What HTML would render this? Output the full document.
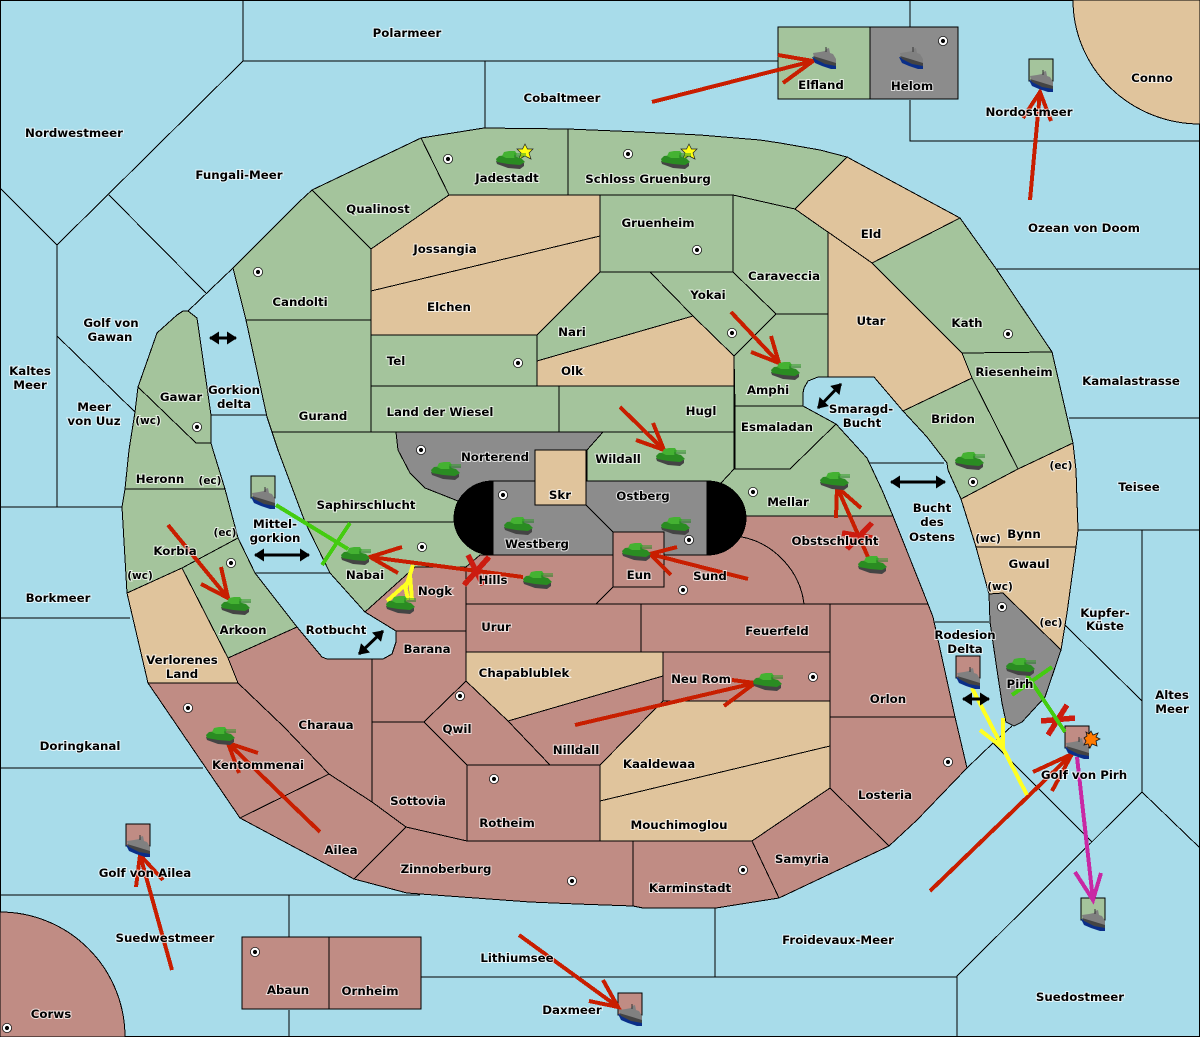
<!DOCTYPE html>
<html><head><meta charset="utf-8"><title>Map</title>
<style>
html,body{margin:0;padding:0;background:#a8dcea}
svg{display:block}
.g{fill:#a4c49c}.t{fill:#e0c49c}.p{fill:#c08c84}.y{fill:#8c8c8c}
.land *{stroke:#000;stroke-width:1;shape-rendering:crispEdges}
.r,.ye,.gr,.m,.x{fill:none;stroke-linejoin:miter;shape-rendering:crispEdges}
.r{stroke:#c81e00;stroke-width:4}.ye{stroke:#ffff22;stroke-width:4}.gr{stroke:#44cc10;stroke-width:4}.m{stroke:#c828a4;stroke-width:4}.x{stroke:#cc1c10;stroke-width:5.500}
text{font:bold 11.8px "DejaVu Sans",sans-serif;fill:#000;stroke:#fff;stroke-width:2px;stroke-opacity:.72;paint-order:stroke;text-anchor:middle}
</style></head><body>
<svg xmlns="http://www.w3.org/2000/svg" width="1200" height="1037" viewBox="0 0 1200 1037">
<defs>
<g id="tank">
<polygon points="-15,2 -14,5 -3,9 9,10 13,7 13,4" fill="#444"/>
<polygon points="-15,0 -12,-3 -2,-4 10,-1 14,3 9,6 -3,5 -14,3" fill="#2a8c22"/>
<polygon points="-9,-3 -7,-7 -2,-8 4,-8 6,-5 3,-1 -5,-1" fill="#44b232"/>
<path d="M3,-5H15" stroke="#2a9a22" stroke-width="1"/><path d="M3,-3H15" stroke="#1e7a1e" stroke-width="1"/>
</g>
<g id="ship">
<polygon points="0,21 3,27 10,30 19,33 24,33 24,28 10,23" fill="#0a2e88"/>
<polygon points="1,17 8,16 13,15 14,13 17,12 18,17 21,18 24,23 24,29 13,26 2,21" fill="#808080"/>
<polygon points="1,20 11,23 24,27 24,30 13,28 3,23" fill="#444"/>
<path d="M14,11V16" stroke="#333" stroke-width="1"/>
</g>
<g id="dot"><circle r="4.6" fill="#fff" stroke="#111" stroke-width=".8"/><circle r="2.100" fill="#000"/></g>
<marker id="ah" markerUnits="userSpaceOnUse" markerWidth="12" markerHeight="13" refX="9" refY="6.5" orient="auto-start-reverse"><polygon points="0,0 10,6.5 0,13" fill="#000"/></marker>
</defs>
<rect width="1200" height="1037" fill="#a8dcea"/>
<g fill="none" stroke="#000" stroke-width="1" shape-rendering="crispEdges">
<rect x=".5" y=".5" width="1199" height="1036"/>
<path d="M243,0V61H778M485,61V128M910,0V27M910,100V141H1200M243,61L57,245L0,188M57,245V507M109,195L206,293M233,268L188,311M57,336L135,412M211,415H267M0,507H122M0,618H130M0,768H203M0,895H420M289,895V937M289,1010V1037M421,977H957M715,908V977M997,269H1200M1069,418H1200M1078,530H1200M1142,530V792M1065,625L1142,701M1142,792L957,976V1037M1142,792L1200,848M993,743L1092,842M967,768L993,743M255,573H330M869,463H944M935,622H989M1012,726L993,743"/>
</g>
<g class="land">
<path class="t" d="M1073,0A127,124 0 0 0 1200,124V0Z"/>
<path class="p" d="M0,912A125,125 0 0 1 125,1037H0Z"/>
<rect class="g" x="778" y="27" width="92" height="72"/>
<rect class="y" x="870" y="27" width="88" height="72"/>
<rect class="p" x="242" y="937" width="87" height="72"/>
<rect class="p" x="329" y="937" width="92" height="72"/>
<rect class="g" x="251" y="476" width="24" height="22"/>
<rect class="g" x="1029" y="59" width="24" height="22"/>
<rect class="p" x="956" y="656" width="24" height="22"/>
<rect class="p" x="1065" y="726" width="24" height="22"/>
<rect class="p" x="126" y="824" width="24" height="22"/>
<rect class="p" x="618" y="993" width="24" height="22"/>
<rect class="g" x="1081" y="898" width="24" height="22"/>
<polygon class="g" points="421,138 484,128 568,129 568,195 449,195"/>
<polygon class="g" points="568,129 640,132 700,135 760,140 780,143 820,150 847,157 795,209 733,195 568,195"/>
<polygon class="g" points="312,190 421,138 449,195 371,249"/>
<polygon class="g" points="233,268 299,202 312,190 371,249 371,320 246,320"/>
<polygon class="g" points="246,320 371,320 371,432 272,432 267,417"/>
<polygon class="t" points="371,249 449,195 600,195 600,236 371,291"/>
<polygon class="t" points="371,291 600,236 600,272 537,335 371,335"/>
<polygon class="g" points="600,195 733,195 733,272 600,272"/>
<polygon class="g" points="600,272 650,272 693,316 537,361 537,335"/>
<polygon class="t" points="537,361 693,316 734,356 734,386 537,386"/>
<polygon class="g" points="650,272 733,272 776,314 734,356 693,316"/>
<polygon class="g" points="733,195 795,209 828,232 828,314 776,314 733,272"/>
<polygon class="g" points="734,356 776,314 828,314 828,377 818,377 808,381 804,388 803,393 803,406 735,406"/>
<polygon class="g" points="371,335 537,335 537,386 371,386"/>
<polygon class="g" points="371,386 559,386 559,432 371,432"/>
<polygon class="g" points="559,386 734,386 734,432 559,432"/>
<polygon class="t" points="847,157 960,218 872,263 795,209"/>
<polygon class="t" points="828,232 872,263 962,353 972,378 903,411 874,377 828,377"/>
<polygon class="g" points="872,263 960,218 997,270 1052,352 962,353"/>
<polygon class="g" points="962,353 1052,352 1073,443 1018,469 972,378"/>
<polygon class="g" points="972,378 1018,469 961,499 948,470 947,463 927,437 903,411"/>
<polygon class="t" points="961,499 1018,469 1073,443 1076,470 1078,530 1076,547 976,547"/>
<polygon class="t" points="976,547 1076,547 1067,613 1061,650 1003,593 989,594"/>
<polygon class="y" points="989,594 1003,593 1061,650 1045,697 1022,722 1014,726 1006,722 1002,703 997,670 990,622"/>
<polygon class="g" points="735,406 803,406 836,424 790,469 735,469"/>
<polygon class="g" points="587,450 603,432 734,432 734,469 721,483 587,483"/>
<polygon class="g" points="734,469 790,469 836,424 867,458 882,490 893,516 700,516 721,483"/>
<polygon class="y" points="396,432 603,432 587,450 587,481 480,510 453,499 425,488 410,473 398,450"/>
<polygon class="g" points="272,432 396,432 398,450 410,473 425,488 453,499 480,510 480,522 305,522 278,450"/>
<polygon class="g" points="305,522 480,522 485,555 466,567 415,567 365,612 330,573"/>
<polygon class="p" points="365,612 415,567 466,567 466,631 396,631"/>
<polygon class="p" points="396,631 466,631 466,681 424,722 372,722 372,659 383,659 392,654 396,642"/>
<polygon class="p" points="228,658 297,627 322,657 327,659 372,659 372,802 329,774 284,727 238,683"/>
<polygon class="t" points="127,593 182,568 228,658 238,683 148,683"/>
<polygon class="g" points="182,568 238,538 255,573 297,627 228,658"/>
<polygon class="g" points="122,507 125,489 225,489 238,538 182,568 127,593"/>
<polygon class="g" points="129,450 135,412 138,387 196,443 211,443 213,450 225,489 125,489"/>
<polygon class="g" points="138,387 157,333 177,315 183,311 188,311 197,318 211,415 211,443 196,443"/>
<polygon class="p" points="148,683 238,683 284,727 329,774 240,818"/>
<polygon class="p" points="240,818 329,774 372,802 406,827 354,879"/>
<polygon class="p" points="406,827 467,841 633,841 633,906 577,904 530,902 407,893 354,879"/>
<polygon class="p" points="372,722 424,722 467,765 467,841 406,827 372,802"/>
<polygon class="p" points="466,681 508,721 550,765 467,765 424,722"/>
<polygon class="p" points="467,765 600,765 600,841 467,841"/>
<polygon class="p" points="508,721 663,676 663,701 657,707 600,765 550,765"/>
<polygon class="t" points="466,652 663,652 663,676 508,721 466,681"/>
<polygon class="p" points="663,652 830,652 830,701 663,701"/>
<polygon class="p" points="466,604 641,604 641,652 466,652"/>
<polygon class="p" points="641,604 830,604 830,652 641,652"/>
<polygon class="t" points="657,707 663,701 830,701 830,746 600,801 600,765"/>
<polygon class="t" points="600,801 830,746 830,788 752,841 600,841"/>
<polygon class="p" points="830,604 928,604 933,617 955,717 830,717"/>
<polygon class="p" points="830,717 955,717 967,768 917,820 889,846 830,788"/>
<polygon class="p" points="830,788 889,846 779,898 752,841"/>
<polygon class="p" points="633,841 752,841 779,898 716,908 643,908 633,906"/>
<polygon class="p" points="466,567 480,555 613,555 613,587 596,604 466,604"/>
<path class="p" d="M596,604L613,587H664V555H707V537H742C773,543 800,570 804,604Z"/>
<path class="p" d="M700,516H893L928,604H804C800,570 773,543 742,537H700Z"/>
<rect class="y" x="493" y="481" width="214" height="74"/>
<path fill="#000" d="M493,481A39,37 0 0 0 493,555ZM707,481A39,37 0 0 1 707,555Z"/>
<rect class="t" x="535" y="450" width="51" height="55"/>
<polygon class="p" points="613,532 664,532 664,587 613,587"/>
<path fill="none" d="M586,505L613,532"/>
</g>

<g>
<path class="r" d="M652,102L813,61M778,55L813,61L783,83"/>
<path class="r" d="M1030,200L1040,92M1023,118L1040,92L1051,121"/>
<path class="r" d="M172,970L140,855M136,887L140,855L163,880"/>
<path class="r" d="M519,935L618,1007M589,1001L618,1007L603,980"/>
<path class="r" d="M930,891L1072,754M1033,772L1072,754L1052,791"/>
<path class="r" d="M748,579L650,554M677,547L650,554L671,575"/>
<path class="r" d="M523,577L370,557M402,547L370,557L398,573"/>
<path class="r" d="M168,525L228,598M201,584L228,598L221,567"/>
<path class="r" d="M320,832L228,743M258,753L228,743L239,773"/>
<path class="r" d="M731,312L779,363M751,352L779,363L771,336"/>
<path class="r" d="M620,407L664,450M636,440L664,450L653,423"/>
<path class="r" d="M575,725L755,683M732,680L755,683L724,706"/>
<path class="r" d="M868,557L837,487M861,508L837,487L836,518"/>
<path class="x" d="M468,555L483,585M489,557L464,585M842,533L872,538M847,549L872,523M1041,721L1075,718M1048,735L1067,705"/>
<path class="ye" d="M413,565L405,590M387,601L405,585L408,600M410,575L412,600"/>
<path class="ye" d="M972,688L1027,795M1003,718L1003,748L980,730"/>
<path class="gr" d="M276,505L348,549M322,565L350,523M1065,732L1027,675M1012,695L1052,667"/>
<path class="m" d="M1077,757L1093,900M1075,872L1093,900L1101,873"/>
<g stroke="#000" stroke-width="3" marker-start="url(#ah)" marker-end="url(#ah)">
<line x1="210" y1="338" x2="236" y2="338"/>
<line x1="255" y1="555" x2="309" y2="555"/>
<line x1="818" y1="408" x2="841" y2="384"/>
<line x1="359" y1="654" x2="383" y2="631"/>
<line x1="891" y1="482" x2="945" y2="482"/>
<line x1="963" y1="699" x2="989" y2="699"/>
</g>
</g>

<g>
<polygon points="525,144 527.500,149 533,149 529,153 531,159 525,156 519,159 521,153 517,149 522.500,149" fill="#ffff10" stroke="#222" stroke-width=".7"/>
<polygon points="689,144 691.500,149 697,149 693,153 695,159 689,156 683,159 685,153 681,149 686.500,149" fill="#ffff10" stroke="#222" stroke-width=".7"/>
<use href="#tank" x="511" y="159"/><use href="#tank" x="676" y="159"/><use href="#tank" x="786" y="370"/><use href="#tank" x="671" y="456"/>
<use href="#tank" x="446" y="470"/><use href="#tank" x="970" y="460"/><use href="#tank" x="835" y="480"/><use href="#tank" x="519" y="525"/>
<use href="#tank" x="676" y="525"/><use href="#tank" x="637" y="551"/><use href="#tank" x="538" y="579"/><use href="#tank" x="356" y="555"/>
<use href="#tank" x="401" y="604"/><use href="#tank" x="236" y="605"/><use href="#tank" x="221" y="735"/><use href="#tank" x="768" y="681"/>
<use href="#tank" x="873" y="564"/><use href="#tank" x="1021" y="666"/>
<use href="#ship" x="812" y="36"/><use href="#ship" x="899" y="36"/><use href="#ship" x="1029" y="59"/><use href="#ship" x="251" y="476"/>
<use href="#ship" x="956" y="656"/><use href="#ship" x="1065" y="726"/><use href="#ship" x="126" y="824"/><use href="#ship" x="618" y="993"/><use href="#ship" x="1081" y="898"/>
<polygon points="1091,731 1093,735 1098,733 1096,737 1100,739 1096,741 1097,746 1092,744 1090,748 1088,744 1084,745 1086,741 1084,738 1087,736 1086,732 1089,734" fill="#ff7a00" stroke="#111" stroke-width=".8"/>
<use href="#dot" x="258" y="272"/><use href="#dot" x="197" y="427"/><use href="#dot" x="448" y="159"/><use href="#dot" x="628" y="154"/>
<use href="#dot" x="697" y="250"/><use href="#dot" x="518" y="363"/><use href="#dot" x="732" y="333"/><use href="#dot" x="1008" y="334"/>
<use href="#dot" x="973" y="482"/><use href="#dot" x="421" y="450"/><use href="#dot" x="503" y="495"/><use href="#dot" x="689" y="540"/>
<use href="#dot" x="753" y="492"/><use href="#dot" x="422" y="547"/><use href="#dot" x="231" y="563"/><use href="#dot" x="188" y="708"/>
<use href="#dot" x="460" y="696"/><use href="#dot" x="494" y="779"/><use href="#dot" x="683" y="590"/><use href="#dot" x="813" y="677"/>
<use href="#dot" x="948" y="762"/><use href="#dot" x="572" y="881"/><use href="#dot" x="743" y="870"/><use href="#dot" x="255" y="952"/>
<use href="#dot" x="7" y="1028"/><use href="#dot" x="943" y="41"/><use href="#dot" x="1002" y="607"/>
</g>

<g transform="translate(0,1)">
<text x="407" y="36">Polarmeer</text><text x="562" y="101">Cobaltmeer</text><text x="74" y="136">Nordwestmeer</text><text x="239" y="178">Fungali-Meer</text>
<text x="1152" y="81">Conno</text><text x="821" y="88">Elfland</text><text x="912" y="89">Helom</text><text x="1029" y="115">Nordostmeer</text>
<text x="1084" y="231">Ozean von Doom</text><text x="507" y="181">Jadestadt</text><text x="648" y="182">Schloss Gruenburg</text><text x="378" y="212">Qualinost</text>
<text x="445" y="252">Jossangia</text><text x="658" y="226">Gruenheim</text><text x="871" y="237">Eld</text><text x="784" y="279">Caraveccia</text><text x="708" y="298">Yokai</text>
<text x="300" y="305">Candolti</text><text x="449" y="310">Elchen</text><text x="572" y="335">Nari</text><text x="871" y="324">Utar</text><text x="967" y="326">Kath</text>
<text x="111" y="326">Golf von</text><text x="110" y="340">Gawan</text><text x="30" y="374">Kaltes</text><text x="30" y="388">Meer</text>
<text x="396" y="364">Tel</text><text x="572" y="374">Olk</text><text x="1014" y="375">Riesenheim</text><text x="1131" y="384">Kamalastrasse</text>
<text x="768" y="393">Amphi</text><text x="181" y="400">Gawar</text><text x="234" y="393">Gorkion</text><text x="234" y="407">delta</text>
<text x="94" y="410">Meer</text><text x="94" y="424">von Uuz</text><text x="148" y="423" style="font-size:10.500px">(wc)</text>
<text x="440" y="415">Land der Wiesel</text><text x="701" y="414">Hugl</text><text x="323" y="419">Gurand</text><text x="861" y="412">Smaragd-</text><text x="862" y="426">Bucht</text>
<text x="953" y="422">Bridon</text><text x="777" y="430">Esmaladan</text><text x="495" y="460">Norterend</text><text x="618" y="462">Wildall</text><text x="160" y="482">Heronn</text>
<text x="210" y="483" style="font-size:10.500px">(ec)</text><text x="1061" y="468" style="font-size:10.500px">(ec)</text><text x="1139" y="490">Teisee</text><text x="643" y="499">Ostberg</text>
<text x="560" y="498">Skr</text><text x="788" y="505">Mellar</text><text x="366" y="508">Saphirschlucht</text><text x="932" y="511">Bucht</text><text x="932" y="525">des</text><text x="932" y="540">Ostens</text>
<text x="275" y="527">Mittel-</text><text x="275" y="541">gorkion</text><text x="1024" y="537">Bynn</text><text x="988" y="541" style="font-size:10.500px">(wc)</text><text x="835" y="544">Obstschlucht</text>
<text x="537" y="547">Westberg</text><text x="175" y="554">Korbia</text><text x="225" y="535" style="font-size:10.500px">(ec)</text><text x="365" y="578">Nabai</text><text x="639" y="578">Eun</text><text x="710" y="579">Sund</text>
<text x="140" y="578" style="font-size:10.500px">(wc)</text><text x="493" y="583">Hills</text><text x="435" y="594">Nogk</text><text x="1029" y="567">Gwaul</text><text x="1000" y="589" style="font-size:10.500px">(wc)</text>
<text x="58" y="601">Borkmeer</text><text x="1105" y="616">Kupfer-</text><text x="1105" y="629">Küste</text><text x="1051" y="625" style="font-size:10.500px">(ec)</text><text x="496" y="630">Urur</text>
<text x="777" y="634">Feuerfeld</text><text x="243" y="633">Arkoon</text><text x="336" y="633">Rotbucht</text><text x="965" y="638">Rodesion</text><text x="965" y="652">Delta</text><text x="427" y="652">Barana</text>
<text x="182" y="663">Verlorenes</text><text x="182" y="677">Land</text><text x="524" y="676">Chapablublek</text><text x="701" y="682">Neu Rom</text><text x="1020" y="687">Pirh</text>
<text x="1172" y="698">Altes</text><text x="1172" y="712">Meer</text><text x="888" y="702">Orlon</text><text x="326" y="728">Charaua</text><text x="457" y="732">Qwil</text><text x="80" y="749">Doringkanal</text>
<text x="576" y="753">Nilldall</text><text x="659" y="767">Kaaldewaa</text><text x="258" y="768">Kentommenai</text><text x="1084" y="778">Golf von Pirh</text><text x="885" y="798">Losteria</text>
<text x="418" y="804">Sottovia</text><text x="507" y="826">Rotheim</text><text x="679" y="828">Mouchimoglou</text><text x="341" y="853">Ailea</text><text x="802" y="862">Samyria</text><text x="446" y="872">Zinnoberburg</text>
<text x="145" y="876">Golf von Ailea</text><text x="690" y="891">Karminstadt</text><text x="165" y="941">Suedwestmeer</text><text x="838" y="943">Froidevaux-Meer</text><text x="517" y="961">Lithiumsee</text>
<text x="370" y="994">Ornheim</text><text x="288" y="993">Abaun</text><text x="1080" y="1000">Suedostmeer</text><text x="572" y="1013">Daxmeer</text><text x="51" y="1017">Corws</text>
</g>
</svg>
</body></html>
